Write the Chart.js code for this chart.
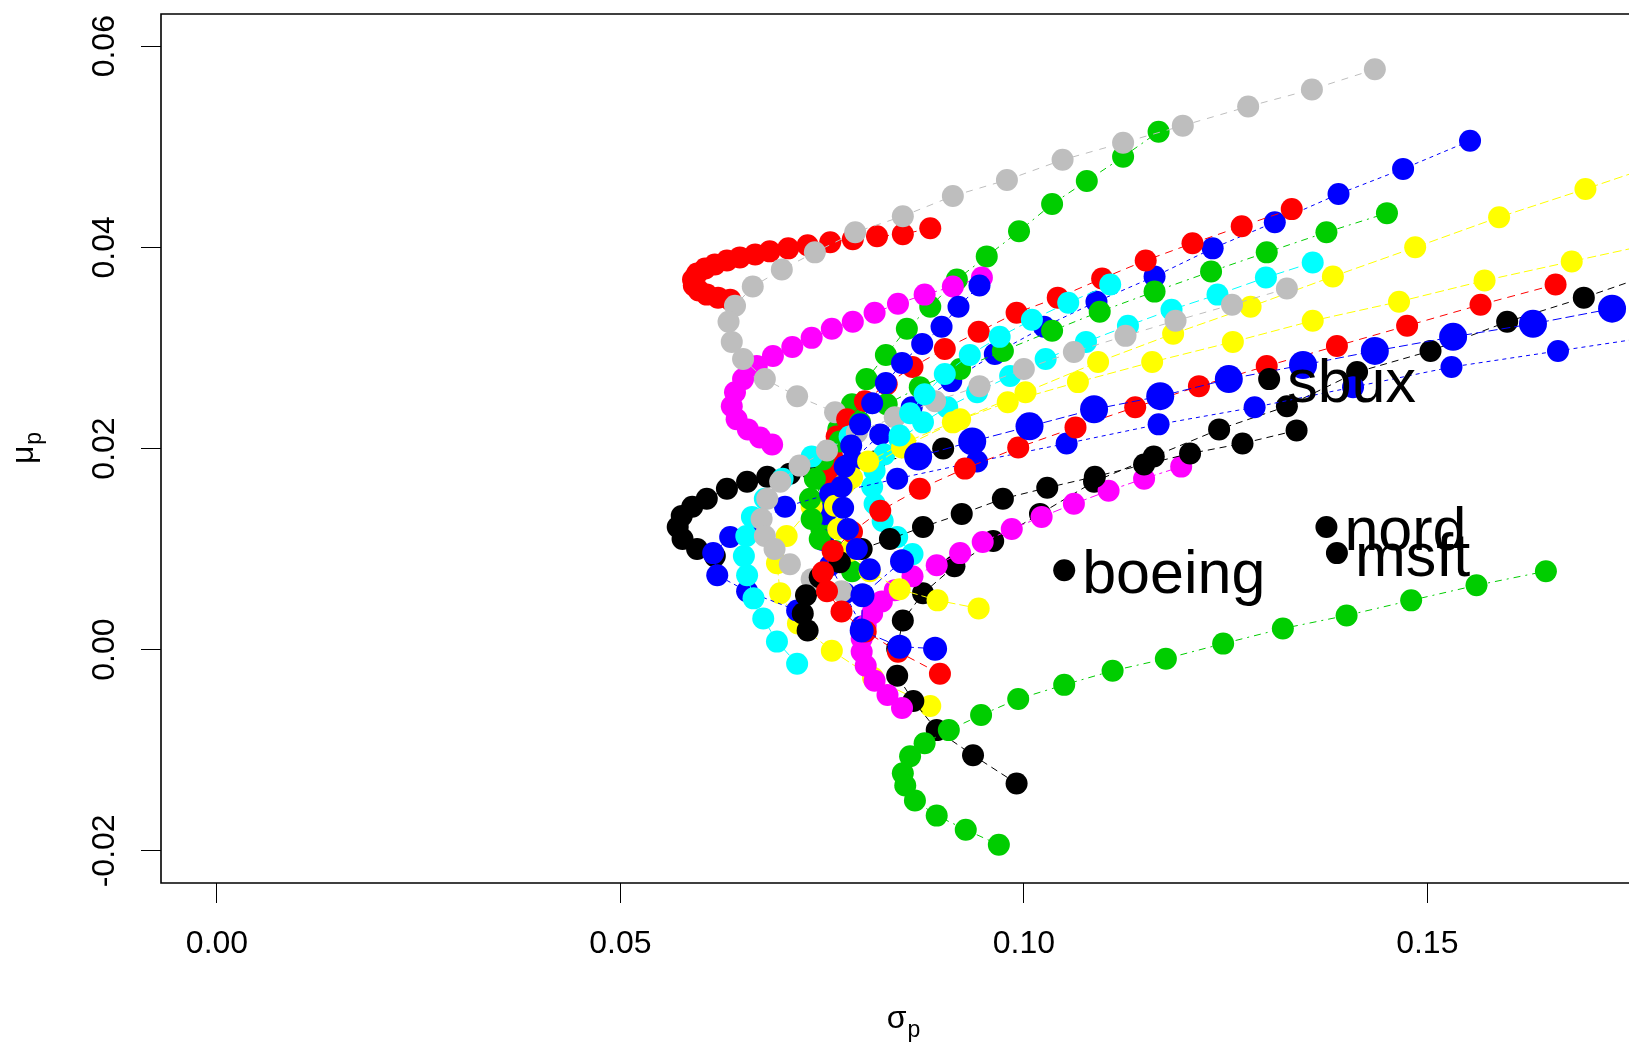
<!DOCTYPE html>
<html><head><meta charset="utf-8">
<script src="https://cdn.jsdelivr.net/npm/chart.js@4.4.1/dist/chart.umd.min.js"></script>
<style>html,body{margin:0;padding:0;background:#fff;overflow:hidden}canvas{display:block}</style>
</head><body>
<canvas id="c" width="1629" height="1042" style="width:1629px;height:1042px"></canvas>
<script>
// ---------------- data (sigma_p, mu_p) ----------------
const xTicks = [0, 0.05, 0.10, 0.15];
const yTicks = [-0.02, 0, 0.02, 0.04, 0.06];

const sigma_black1 = [0.0900,0.0867,0.0815,0.0772,0.0737,0.0710,0.0682,0.0657,0.0632,0.0607,0.0589,0.0576,0.0571,0.0577,0.0595,0.0617];
const mu_black1    = [0.0200,0.0193,0.0187,0.0183,0.0179,0.0175,0.0172,0.0167,0.0160,0.0150,0.0142,0.0133,0.0122,0.0110,0.0100,0.0093];

const sigma_red1 = [0.0884,0.0850,0.0818,0.0788,0.0760,0.0732,0.0708,0.0685,0.0667,0.0648,0.0632,0.0617,0.0605,0.0595,0.0590,0.0591,0.0597,0.0607,0.0621,0.0636];
const mu_red1    = [0.0419,0.0413,0.0411,0.0408,0.0405,0.0402,0.0399,0.0396,0.0393,0.0390,0.0387,0.0383,0.0379,0.0374,0.0368,0.0362,0.0357,0.0353,0.0350,0.0348];

const sigma_green1 = [0.1167,0.1123,0.1078,0.1035,0.0994,0.0954,0.0917,0.0884,0.0855,0.0829,0.0805,0.0787,0.0770,0.0757,0.0747,0.0744,0.0749,0.0766,0.0787];
const mu_green1    = [0.0515,0.0490,0.0466,0.0443,0.0416,0.0391,0.0368,0.0341,0.0319,0.0293,0.0269,0.0244,0.0219,0.0194,0.0170,0.0145,0.0120,0.0098,0.0078];

const sigma_blue1 = [0.1553,0.1470,0.1390,0.1311,0.1234,0.1162,0.1090,0.1025,0.0964,0.0910,0.0861,0.0822,0.0788,0.0763,0.0754,0.0751,0.0760,0.0778,0.0799];
const mu_blue1    = [0.0506,0.0478,0.0453,0.0425,0.0399,0.0371,0.0346,0.0321,0.0294,0.0267,0.0241,0.0214,0.0188,0.0161,0.0135,0.0109,0.0084,0.0056,0.0023];

const sigma_cyan1 = [0.1358,0.1300,0.1240,0.1183,0.1129,0.1077,0.1027,0.0983,0.0942,0.0905,0.0875,0.0846,0.0827,0.0815,0.0812,0.0815,0.0825,0.0843,0.0862];
const mu_cyan1    = [0.0385,0.0370,0.0353,0.0338,0.0322,0.0306,0.0289,0.0272,0.0256,0.0241,0.0226,0.0209,0.0194,0.0178,0.0162,0.0145,0.0128,0.0112,0.0095];

const sigma_magenta1 = [0.0948,0.0912,0.0877,0.0844,0.0815,0.0788,0.0762,0.0737,0.0713,0.0689,0.0669,0.0652,0.0642,0.0638,0.0644,0.0658,0.0673,0.0688];
const mu_magenta1    = [0.0370,0.0361,0.0353,0.0344,0.0335,0.0326,0.0319,0.0310,0.0301,0.0292,0.0282,0.0269,0.0256,0.0242,0.0229,0.0219,0.0211,0.0204];

const sigma_yellow1 = [0.1803,0.1696,0.1589,0.1485,0.1383,0.1281,0.1185,0.1092,0.1002,0.0921,0.0849,0.0787,0.0737,0.0706,0.0694,0.0698,0.0720,0.0762,0.0813,0.0884];
const mu_yellow1    = [0.0487,0.0458,0.0430,0.0400,0.0371,0.0341,0.0314,0.0286,0.0256,0.0229,0.0201,0.0171,0.0142,0.0113,0.0086,0.0056,0.0026,-0.0001,-0.0028,-0.0056];

const sigma_gray1 = [0.1435,0.1357,0.1278,0.1197,0.1123,0.1048,0.0979,0.0912,0.0850,0.0791,0.0741,0.0700,0.0664,0.0642,0.0634,0.0638,0.0652,0.0679,0.0719,0.0766];
const mu_gray1    = [0.0577,0.0557,0.0540,0.0521,0.0504,0.0487,0.0467,0.0451,0.0431,0.0415,0.0395,0.0378,0.0361,0.0342,0.0326,0.0306,0.0289,0.0269,0.0252,0.0236];

const sigma_black2 = [0.1788,0.1694,0.1599,0.1504,0.1413,0.1326,0.1242,0.1161,0.1087,0.1020,0.0962,0.0914,0.0875,0.0850,0.0843,0.0843,0.0863,0.0892,0.0937,0.0991];
const mu_black2    = [0.0376,0.0350,0.0326,0.0297,0.0276,0.0242,0.0219,0.0192,0.0167,0.0135,0.0108,0.0083,0.0056,0.0029,0.0001,-0.0026,-0.0051,-0.0080,-0.0105,-0.0133];

const sigma_red2 = [0.1332,0.1270,0.1209,0.1151,0.1097,0.1042,0.0991,0.0944,0.0902,0.0862,0.0830,0.0803,0.0781,0.0768,0.0762,0.0760,0.0763];
const mu_red2    = [0.0438,0.0421,0.0404,0.0387,0.0369,0.0350,0.0335,0.0316,0.0299,0.0281,0.0264,0.0247,0.0229,0.0212,0.0194,0.0177,0.0159];

const sigma_green2 = [0.1450,0.1375,0.1301,0.1232,0.1162,0.1094,0.1035,0.0974,0.0921,0.0871,0.0830,0.0797,0.0772,0.0751,0.0741,0.0735,0.0737,0.0747];
const mu_green2    = [0.0434,0.0415,0.0395,0.0376,0.0356,0.0336,0.0317,0.0297,0.0279,0.0261,0.0244,0.0226,0.0207,0.0189,0.0170,0.0150,0.0130,0.0110];

const sigma_blue2 = [0.1794,0.1662,0.1530,0.1408,0.1286,0.1167,0.1053,0.0942,0.0843,0.0760,0.0704,0.0669,0.0636,0.0615,0.0620,0.0657,0.0719];
const mu_blue2    = [0.0313,0.0297,0.0281,0.0261,0.0241,0.0224,0.0205,0.0187,0.0170,0.0155,0.0142,0.0127,0.0112,0.0096,0.0074,0.0058,0.0039];

const sigma_cyan2 = [0.0784,0.0737,0.0701,0.0679,0.0663,0.0656,0.0653,0.0657,0.0665,0.0677,0.0694,0.0719];
const mu_cyan2    = [0.0212,0.0192,0.0170,0.0150,0.0132,0.0113,0.0093,0.0074,0.0051,0.0031,0.0008,-0.0014];

const sigma_magenta2 = [0.1195,0.1149,0.1105,0.1062,0.1022,0.0985,0.0949,0.0921,0.0892,0.0862,0.0840,0.0824,0.0812,0.0804,0.0799,0.0799,0.0804,0.0815,0.0831,0.0849];
const mu_magenta2    = [0.0182,0.0170,0.0158,0.0145,0.0132,0.0120,0.0107,0.0096,0.0084,0.0073,0.0059,0.0048,0.0036,0.0024,0.0011,-0.0002,-0.0016,-0.0031,-0.0045,-0.0058];

const sigma_yellow2 = [0.1788,0.1679,0.1571,0.1465,0.1358,0.1259,0.1159,0.1067,0.0980,0.0912,0.0853,0.0807,0.0778,0.0766,0.0770,0.0784,0.0809,0.0846,0.0893,0.0944];
const mu_yellow2    = [0.0405,0.0386,0.0367,0.0346,0.0327,0.0306,0.0286,0.0266,0.0246,0.0226,0.0206,0.0187,0.0165,0.0143,0.0120,0.0098,0.0078,0.0060,0.0049,0.0041];

const sigma_gray2 = [0.1326,0.1258,0.1188,0.1126,0.1062,0.1000,0.0945,0.0890,0.0840,0.0793,0.0756,0.0722,0.0698,0.0682,0.0675,0.0679,0.0691,0.0710,0.0737,0.0774];
const mu_gray2    = [0.0359,0.0343,0.0327,0.0312,0.0296,0.0279,0.0262,0.0247,0.0231,0.0216,0.0198,0.0183,0.0167,0.0150,0.0130,0.0113,0.0100,0.0085,0.0070,0.0058];

const sigma_black3 = [0.1338,0.1271,0.1206,0.1149,0.1088,0.1029,0.0974,0.0923,0.0875,0.0834,0.0799,0.0772,0.0747,0.0730,0.0726,0.0732];
const mu_black3    = [0.0218,0.0205,0.0195,0.0184,0.0172,0.0161,0.0150,0.0135,0.0122,0.0110,0.0100,0.0087,0.0072,0.0054,0.0036,0.0019];

const sigma_red3 = [0.1659,0.1566,0.1475,0.1388,0.1301,0.1217,0.1138,0.1064,0.0993,0.0927,0.0871,0.0822,0.0787,0.0763,0.0751,0.0756,0.0774,0.0804,0.0844,0.0896];
const mu_red3    = [0.0363,0.0343,0.0322,0.0302,0.0282,0.0262,0.0241,0.0221,0.0201,0.0180,0.0160,0.0138,0.0117,0.0098,0.0077,0.0058,0.0038,0.0018,-0.0002,-0.0024];

const sigma_green3 = [0.1647,0.1561,0.1480,0.1400,0.1321,0.1247,0.1176,0.1110,0.1050,0.0993,0.0947,0.0907,0.0877,0.0859,0.0850,0.0853,0.0865,0.0892,0.0928,0.0969];
const mu_green3    = [0.0078,0.0064,0.0049,0.0034,0.0021,0.0006,-0.0009,-0.0021,-0.0035,-0.0049,-0.0065,-0.0080,-0.0093,-0.0106,-0.0123,-0.0135,-0.0150,-0.0165,-0.0179,-0.0194];

const sigma_blue3 = [0.0945,0.0919,0.0898,0.0874,0.0849,0.0829,0.0812,0.0797,0.0786,0.0778,0.0774,0.0776,0.0782,0.0793,0.0809];
const mu_blue3    = [0.0362,0.0341,0.0321,0.0304,0.0285,0.0265,0.0245,0.0224,0.0203,0.0182,0.0162,0.0141,0.0120,0.0100,0.0080];

const sigma_cyan3 = [0.1107,0.1055,0.1010,0.0970,0.0933,0.0902,0.0877,0.0859,0.0846];
const mu_cyan3    = [0.0363,0.0345,0.0328,0.0311,0.0293,0.0274,0.0254,0.0235,0.0213];

const sigma_blue4 = [0.1825,0.1729,0.1631,0.1532,0.1435,0.1346,0.1254,0.1169,0.1087,0.1007,0.0936,0.0869];
const mu_blue4    = [0.0352,0.0339,0.0324,0.0311,0.0297,0.0283,0.0269,0.0252,0.0239,0.0222,0.0207,0.0192];

const sigma_blue5 = [0.0849,0.0800,0.0799,0.0846,0.0890];
const mu_blue5    = [0.0088,0.0054,0.0019,0.0003,0.0001];

const stockNames = ['boeing', 'nord', 'msft', 'sbux'];
const stockSigma = [0.1050, 0.1375, 0.1388, 0.1304];
const stockMu    = [0.0079, 0.0122, 0.0096, 0.0269];

// ---------------- styling ----------------
const rColors = {black:'#000000', red:'#FF0000', green:'#00CD00', blue:'#0000FF',
                 cyan:'#00FFFF', magenta:'#FF00FF', yellow:'#FFFF00', gray:'#BEBEBE'};
const dashes = [[7,5],[8,6],[2,5,7,5],[4,4],[10,5],[3,4,9,4],[9,4],[7,7]];

// order in which the frontiers are drawn (first = bottom)
const seriesTable = [
  ['black',  sigma_black1,  mu_black1,  11],
  ['red',    sigma_red1,    mu_red1,    11],
  ['green',  sigma_green1,  mu_green1,  11],
  ['blue',   sigma_blue1,   mu_blue1,   11],
  ['cyan',   sigma_cyan1,   mu_cyan1,   11],
  ['magenta',sigma_magenta1,mu_magenta1,11],
  ['yellow', sigma_yellow1, mu_yellow1, 11],
  ['gray',   sigma_gray1,   mu_gray1,   11],
  ['black',  sigma_black2,  mu_black2,  11],
  ['red',    sigma_red2,    mu_red2,    11],
  ['green',  sigma_green2,  mu_green2,  11],
  ['blue',   sigma_blue2,   mu_blue2,   11],
  ['cyan',   sigma_cyan2,   mu_cyan2,   11],
  ['magenta',sigma_magenta2,mu_magenta2,11],
  ['yellow', sigma_yellow2, mu_yellow2, 11],
  ['gray',   sigma_gray2,   mu_gray2,   11],
  ['black',  sigma_black3,  mu_black3,  11],
  ['red',    sigma_red3,    mu_red3,    11],
  ['green',  sigma_green3,  mu_green3,  11],
  ['blue',   sigma_blue3,   mu_blue3,   11],
  ['cyan',   sigma_cyan3,   mu_cyan3,   11],
  ['blue',   sigma_blue5,   mu_blue5,   12],
  ['blue',   sigma_blue4,   mu_blue4,   14]
];

const N = seriesTable.length;
const datasets = seriesTable.map((s, i) => ({
  label: s[0] + (i + 1),
  data: s[1].map((v, k) => ({x: v, y: s[2][k]})),
  borderColor: rColors[s[0]],
  backgroundColor: rColors[s[0]],
  pointBackgroundColor: rColors[s[0]],
  pointBorderWidth: 0,
  pointRadius: s[3],
  pointHoverRadius: s[3],
  borderWidth: 1,
  borderDash: dashes[i % dashes.length],
  showLine: true,
  tension: 0,
  order: N + 1 - i
}));
datasets.push({
  label: 'stocks',
  data: stockSigma.map((v, k) => ({x: v, y: stockMu[k]})),
  pointBackgroundColor: '#000', backgroundColor: '#000', borderColor: '#000',
  pointBorderWidth: 0, pointRadius: 11, pointHoverRadius: 11,
  showLine: false, order: 0
});

const FONT = '"Liberation Sans", Arial, sans-serif';

const framePlugin = {
  id: 'frame',
  afterDraw(chart) {
    const {ctx, chartArea: a} = chart;
    ctx.save();
    ctx.strokeStyle = '#000';
    ctx.lineWidth = 1.6;
    ctx.beginPath();
    ctx.moveTo(a.right + 20, a.top);
    ctx.lineTo(a.left, a.top);
    ctx.lineTo(a.left, a.bottom);
    ctx.lineTo(a.right + 20, a.bottom);
    ctx.stroke();
    // axis titles: sigma_p and mu_p
    ctx.fillStyle = '#000';
    ctx.textBaseline = 'alphabetic';
    ctx.textAlign = 'left';
    const cx = (a.left + a.right) / 2 + 8;
    ctx.font = '32px ' + FONT;
    const wS = ctx.measureText('σ').width;
    ctx.font = '23px ' + FONT;
    const wP = ctx.measureText('p').width;
    const x0 = cx - (wS + wP) / 2;
    ctx.font = '32px ' + FONT;
    ctx.fillText('σ', x0, 1028);
    ctx.font = '23px ' + FONT;
    ctx.fillText('p', x0 + wS + 1, 1037);
    // mu_p rotated
    ctx.save();
    const cy = (a.top + a.bottom) / 2;
    ctx.font = '32px ' + FONT;
    const wM = ctx.measureText('μ').width;
    ctx.translate(33, cy + (wM + wP) / 2);
    ctx.rotate(-Math.PI / 2);
    ctx.fillText('μ', 0, 0);
    ctx.font = '23px ' + FONT;
    ctx.fillText('p', wM + 1, 8);
    ctx.restore();
    ctx.restore();
  }
};

const labelPlugin = {
  id: 'stockLabels',
  afterDatasetsDraw(chart) {
    const {ctx, scales: {x, y}} = chart;
    ctx.save();
    ctx.font = '61px ' + FONT;
    ctx.fillStyle = '#000';
    ctx.textAlign = 'left';
    ctx.textBaseline = 'alphabetic';
    stockNames.forEach((n, i) => {
      const px = x.getPixelForValue(stockSigma[i]);
      const py = y.getPixelForValue(stockMu[i]);
      ctx.fillText(n, px + 18, py + 23);
    });
    ctx.restore();
  }
};

new Chart(document.getElementById('c'), {
  type: 'scatter',
  data: {datasets},
  plugins: [framePlugin, labelPlugin],
  options: {
    responsive: false,
    devicePixelRatio: 1,
    animation: false,
    events: [],
    layout: {autoPadding: false, padding: {top: 14, right: 0, bottom: 0, left: 0}},
    plugins: {legend: {display: false}, tooltip: {enabled: false}},
    scales: {
      x: {
        type: 'linear', position: 'bottom',
        min: -0.00694, max: 0.175,
        border: {display: false},
        grid: {drawOnChartArea: false, drawTicks: true, tickLength: 20, color: '#000', tickWidth: 1},
        ticks: {autoSkip: false, maxRotation: 0, minRotation: 0, padding: 22, color: '#000',
                font: {family: FONT, size: 32}, callback: v => Number(v).toFixed(2)},
        afterBuildTicks: s => { s.ticks = xTicks.map(v => ({value: v})); },
        afterFit: s => { s.height = 159; s.paddingLeft = 0; s.paddingRight = 0; s.paddingTop = 0; s.paddingBottom = 0; }
      },
      y: {
        type: 'linear', position: 'left',
        min: -0.0232, max: 0.0632,
        border: {display: false},
        grid: {drawOnChartArea: false, drawTicks: true, tickLength: 20, color: '#000', tickWidth: 1},
        ticks: {autoSkip: false, minRotation: 90, maxRotation: 90, crossAlign: 'center', padding: -1, color: '#000',
                font: {family: FONT, size: 32}, callback: v => Number(v).toFixed(2)},
        afterBuildTicks: s => { s.ticks = yTicks.map(v => ({value: v})); },
        afterFit: s => { s.width = 161; s.paddingLeft = 0; s.paddingRight = 0; s.paddingTop = 0; s.paddingBottom = 0; }
      }
    }
  }
});
</script>
</body></html>
